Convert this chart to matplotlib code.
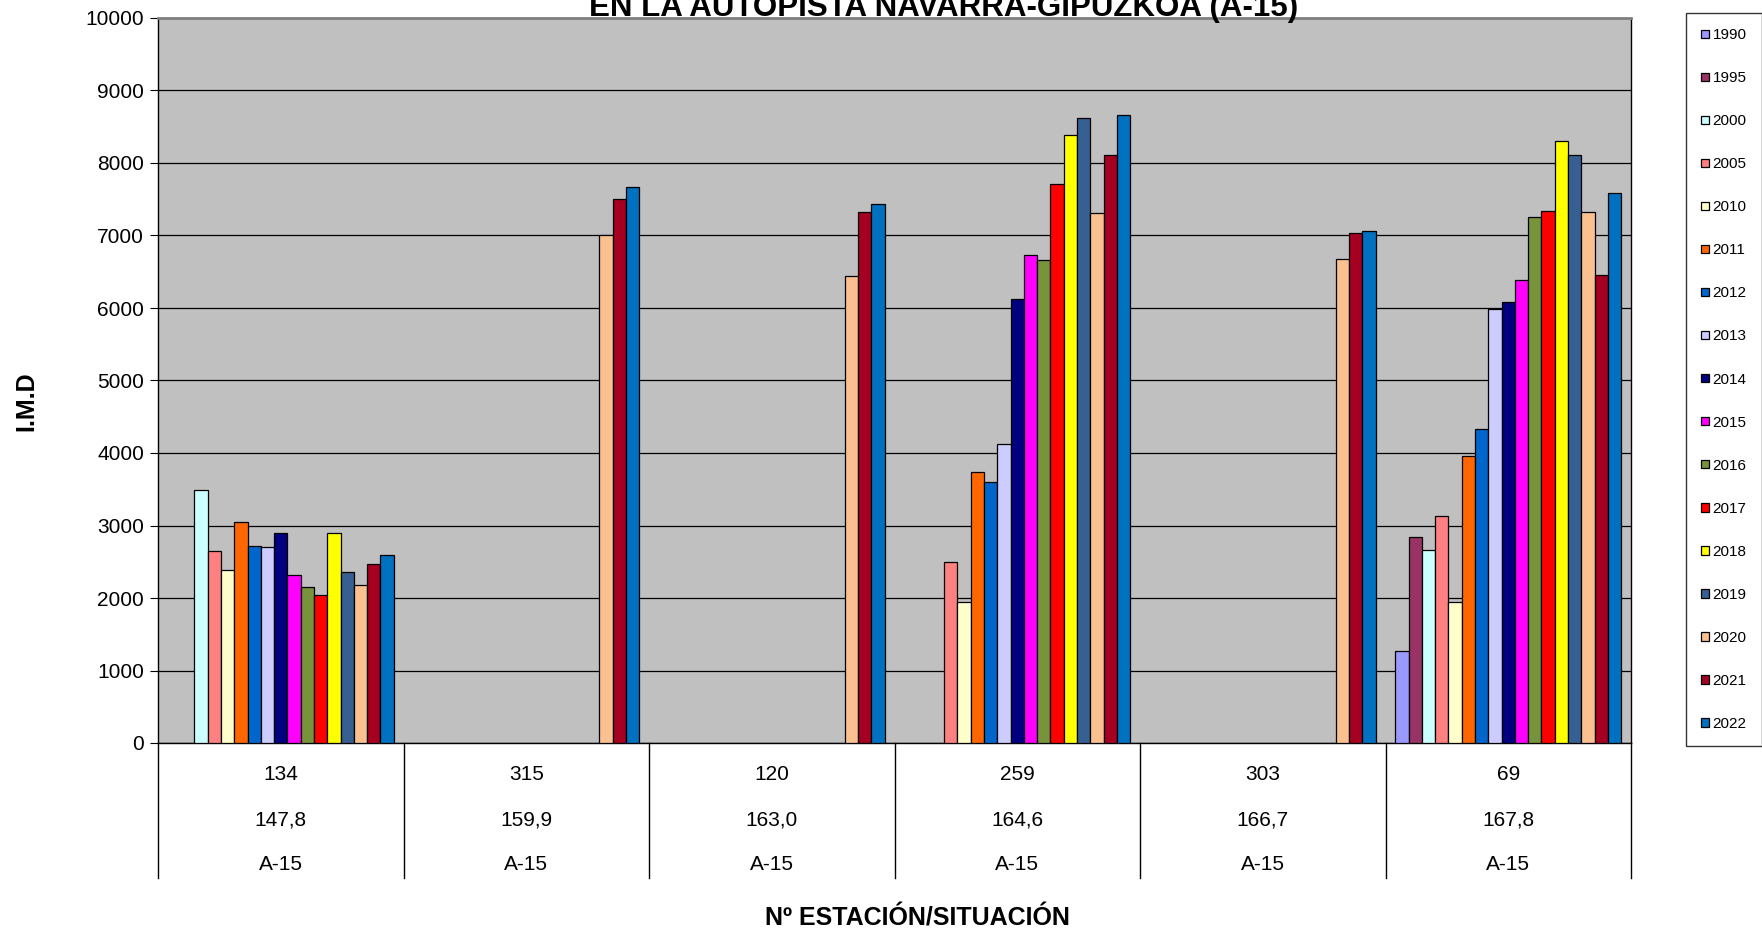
import matplotlib
matplotlib.use("Agg")
from matplotlib import pyplot as plt
from matplotlib.patches import Patch
import numpy as np

plt.rcParams["font.family"] = ["Liberation Sans", "DejaVu Sans"]

# datos
years = ["1990", "1995", "2000", "2005", "2010", "2011", "2012", "2013",
         "2014", "2015", "2016", "2017", "2018", "2019", "2020", "2021", "2022"]
colors = ["#9999FF", "#993366", "#CCFFFF", "#FF8080", "#FFFFCC", "#FF6600",
          "#0066CC", "#CCCCFF", "#000080", "#FF00FF", "#77933C", "#FF0000",
          "#FFFF00", "#376092", "#FAC090", "#A50021", "#0070C0"]

stations = ["134", "315", "120", "259", "303", "69"]
pk = ["147,8", "159,9", "163,0", "164,6", "166,7", "167,8"]
roads = ["A-15", "A-15", "A-15", "A-15", "A-15", "A-15"]

st134 = [None, None, 3490, 2645, 2385, 3045, 2715, 2700, 2890, 2315, 2155,
         2035, 2900, 2360, 2180, 2470, 2595]
st315 = [None, None, None, None, None, None, None, None, None, None, None,
         None, None, None, 7000, 7510, 7670]
st120 = [None, None, None, None, None, None, None, None, None, None, None,
         None, None, None, 6440, 7320, 7440]
st259 = [None, None, None, 2500, 1950, 3740, 3600, 4130, 6120, 6735, 6660,
         7715, 8385, 8625, 7310, 8110, 8660]
st303 = [None, None, None, None, None, None, None, None, None, None, None,
         None, None, None, 6680, 7030, 7060]
st69 = [1275, 2840, 2665, 3135, 1945, 3955, 4325, 5980, 6080, 6385, 7260,
        7335, 8300, 8110, 7330, 6460, 7590]

table = [st134, st315, st120, st259, st303, st69]

W, H = 1762, 934
fig = plt.figure(figsize=(W / 100, H / 100), dpi=100)
ax = fig.add_axes([158 / W, 1 - 743 / H, (1631 - 158) / W, (743 - 18) / H])
ax.set_facecolor("#C0C0C0")

n = len(years)
width = 0.92 / n
for i, (year, color) in enumerate(zip(years, colors)):
    xs = []
    hs = []
    for j, row in enumerate(table):
        if row[i] is not None:
            xs.append(j + (i - (n - 1) / 2) * width)
            hs.append(row[i])
    ax.bar(xs, hs, width=width, color=color, edgecolor="black",
           linewidth=0.9, zorder=3)

ax.set_xlim(-0.5, len(stations) - 0.5)
ax.set_ylim(0, 10000)
ax.set_yticks(np.arange(0, 10001, 1000))
ax.tick_params(axis="y", labelsize=15, length=6, direction="out", pad=4)
ax.set_xticks([])
ax.yaxis.grid(True, color="black", linewidth=0.9)
ax.set_axisbelow(True)
for side in ["left", "bottom", "right"]:
    ax.spines[side].set_color("black")
    ax.spines[side].set_linewidth(1.0)
ax.spines["top"].set_color("#808080")
ax.spines["top"].set_linewidth(2.0)

# tabla de categorias bajo el eje
tr = ax.get_xaxis_transform()
rows_y = [-31 / 725, -77 / 725, -122 / 725]
for j in range(len(stations)):
    ax.text(j, rows_y[0], stations[j], transform=tr, ha="center",
            va="center", fontsize=15)
    ax.text(j, rows_y[1], pk[j], transform=tr, ha="center",
            va="center", fontsize=15)
    ax.text(j, rows_y[2], roads[j], transform=tr, ha="center",
            va="center", fontsize=15)
for k in range(len(stations) + 1):
    ax.plot([k - 0.5, k - 0.5], [0, -135 / 725], transform=tr,
            color="black", linewidth=1.0, clip_on=False)

fig.text(944 / W, 1 - 16 / H, "EN LA AUTOPISTA NAVARRA-GIPUZKOA (A-15)",
         ha="center", va="baseline", fontsize=22.5, fontweight="bold")
fig.text(26 / W, 1 - 401 / H, "I.M.D", rotation=90, ha="center",
         va="center", fontsize=18, fontweight="bold")
fig.text(917 / W, 1 - 919 / H, "Nº ESTACIÓN/SITUACIÓN", ha="center",
         va="center", fontsize=18, fontweight="bold")

handles = [Patch(facecolor=c, edgecolor="black", linewidth=0.9)
           for c in colors]
leg = fig.legend(handles, years, loc="upper left",
                 bbox_to_anchor=(1686 / W, 1 - 13 / H), fontsize=11,
                 handlelength=0.5, handleheight=0.5, handletextpad=0.25,
                 labelspacing=1.90, borderpad=1.0, borderaxespad=0,
                 frameon=True, fancybox=False)
leg.get_frame().set_edgecolor("black")
leg.get_frame().set_linewidth(1.0)

fig.savefig("out.png", dpi=100)
